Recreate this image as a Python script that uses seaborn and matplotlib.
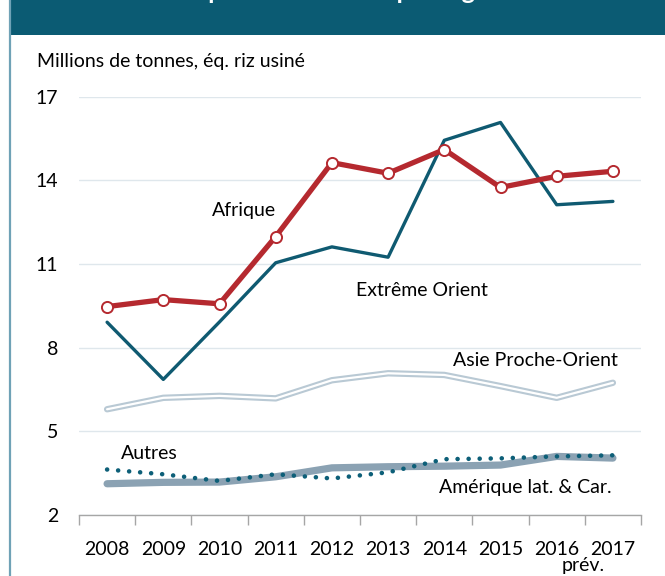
import matplotlib
matplotlib.use("Agg")
import matplotlib.pyplot as plt
import matplotlib.patheffects as pe
from matplotlib.patches import Rectangle
from matplotlib.lines import Line2D
import seaborn as sns
import pandas as pd

years = ["2008", "2009", "2010", "2011", "2012", "2013", "2014", "2015", "2016", "2017"]
afrique = [9.47, 9.72, 9.57, 11.98, 14.63, 14.25, 15.10, 13.74, 14.14, 14.32]
extreme_orient = [8.91, 6.86, 8.92, 11.04, 11.61, 11.24, 15.43, 16.07, 13.12, 13.24]
asie_proche_orient = [5.79, 6.20, 6.27, 6.18, 6.83, 7.08, 7.02, 6.62, 6.20, 6.74]
amerique = [3.12, 3.17, 3.18, 3.37, 3.69, 3.73, 3.75, 3.79, 4.10, 4.04]
autres = [3.63, 3.46, 3.22, 3.46, 3.31, 3.53, 4.00, 4.03, 4.10, 4.14]
yticks = [2, 5, 8, 11, 14, 17]

sns.set_theme(style="white")
plt.rcParams["font.family"] = ["Lato", "DejaVu Sans"]

W, H = 665, 576
fig = plt.figure(figsize=(W / 100, H / 100), dpi=100)
fig.patch.set_facecolor("white")

# banner and left border
fig.patches.append(Rectangle((9 / W, 1 - 35 / H), 1, 35 / H, transform=fig.transFigure,
                             facecolor="#0b5b73", edgecolor="none", zorder=0))
fig.lines.append(Line2D([9.5 / W, 9.5 / W], [0, 1], transform=fig.transFigure,
                        color="#6fa2b6", lw=1.6))
fig.text(345 / W, 1 + 1 / H, "Importations de riz par région", color="white",
         fontsize=18, fontweight="bold", ha="center", va="baseline")

ax = fig.add_axes([79 / W, 1 - 515 / H, 562 / W, (515 - 96.5) / H])
ax.set_facecolor("none")

x = list(range(len(years)))
df = pd.DataFrame({"x": x, "afrique": afrique, "eo": extreme_orient,
                   "apo": asie_proche_orient, "am": amerique, "autres": autres})

sns.lineplot(data=df, x="x", y="apo", ax=ax, color="white", lw=1.6,
             solid_capstyle="round", zorder=2,
             path_effects=[pe.Stroke(linewidth=4.6, foreground="#b9c9d4", capstyle="round"), pe.Normal()])
sns.lineplot(data=df, x="x", y="am", ax=ax, color="#8ba2b3", lw=5.2,
             solid_capstyle="round", zorder=3)
sns.lineplot(data=df, x="x", y="autres", ax=ax, color="#0d5f78", lw=3.3,
             dashes=False, linestyle=(0, (0.01, 2.4)), dash_capstyle="round", zorder=4)
sns.lineplot(data=df, x="x", y="eo", ax=ax, color="#0f5a71", lw=2.4, zorder=5)
sns.lineplot(data=df, x="x", y="afrique", ax=ax, color="#b5292f", lw=3.8,
             marker="o", markersize=8, markerfacecolor="white",
             markeredgecolor="#b5292f", markeredgewidth=1.4, zorder=6)

ax.set_xlim(-0.5, len(years) - 0.5)
ax.set_ylim(2, 17)
ax.set_yticks(yticks)
ax.set_yticklabels([str(v) for v in yticks])
ax.set_xticks(x)
ax.set_xticklabels(years)
ax.set_xticks([i - 0.5 for i in range(len(years) + 1)], minor=True)
ax.tick_params(axis="x", which="major", length=0, pad=19, labelsize=14, colors="black")
ax.tick_params(axis="x", which="minor", length=7, width=1, color="#a6a6a6", direction="out", bottom=True)
ax.tick_params(axis="y", length=0, pad=15, labelsize=14, colors="black")
for lbl in ax.get_yticklabels():
    lbl.set_horizontalalignment("right")

ax.grid(axis="y", color="#dfe7ec", lw=1)
ax.set_axisbelow(True)
for s in ["top", "right", "left"]:
    ax.spines[s].set_visible(False)
ax.spines["bottom"].set_color("#a6a6a6")
ax.spines["bottom"].set_linewidth(1)
ax.set_xlabel("")
ax.set_ylabel("")

ax.text(8.47, -0.12, "prév.", transform=ax.get_xaxis_transform(), ha="center", va="center",
        fontsize=14, color="black")
fig.text(37 / W, 1 - 62 / H, "Millions de tonnes, éq. riz usiné", ha="left", va="center",
         fontsize=14, color="black")

lab = dict(fontsize=14, color="black", va="center")
ax.text(2.44, 12.93, "Afrique", ha="center", **lab)
ax.text(5.60, 10.06, "Extrême Orient", ha="center", **lab)
ax.text(7.63, 7.52, "Asie Proche-Orient", ha="center", **lab)
ax.text(0.76, 4.2, "Autres", ha="center", **lab)
ax.text(7.44, 2.97, "Amérique lat. & Car.", ha="center", **lab)

fig.savefig("out.png", dpi=100)
